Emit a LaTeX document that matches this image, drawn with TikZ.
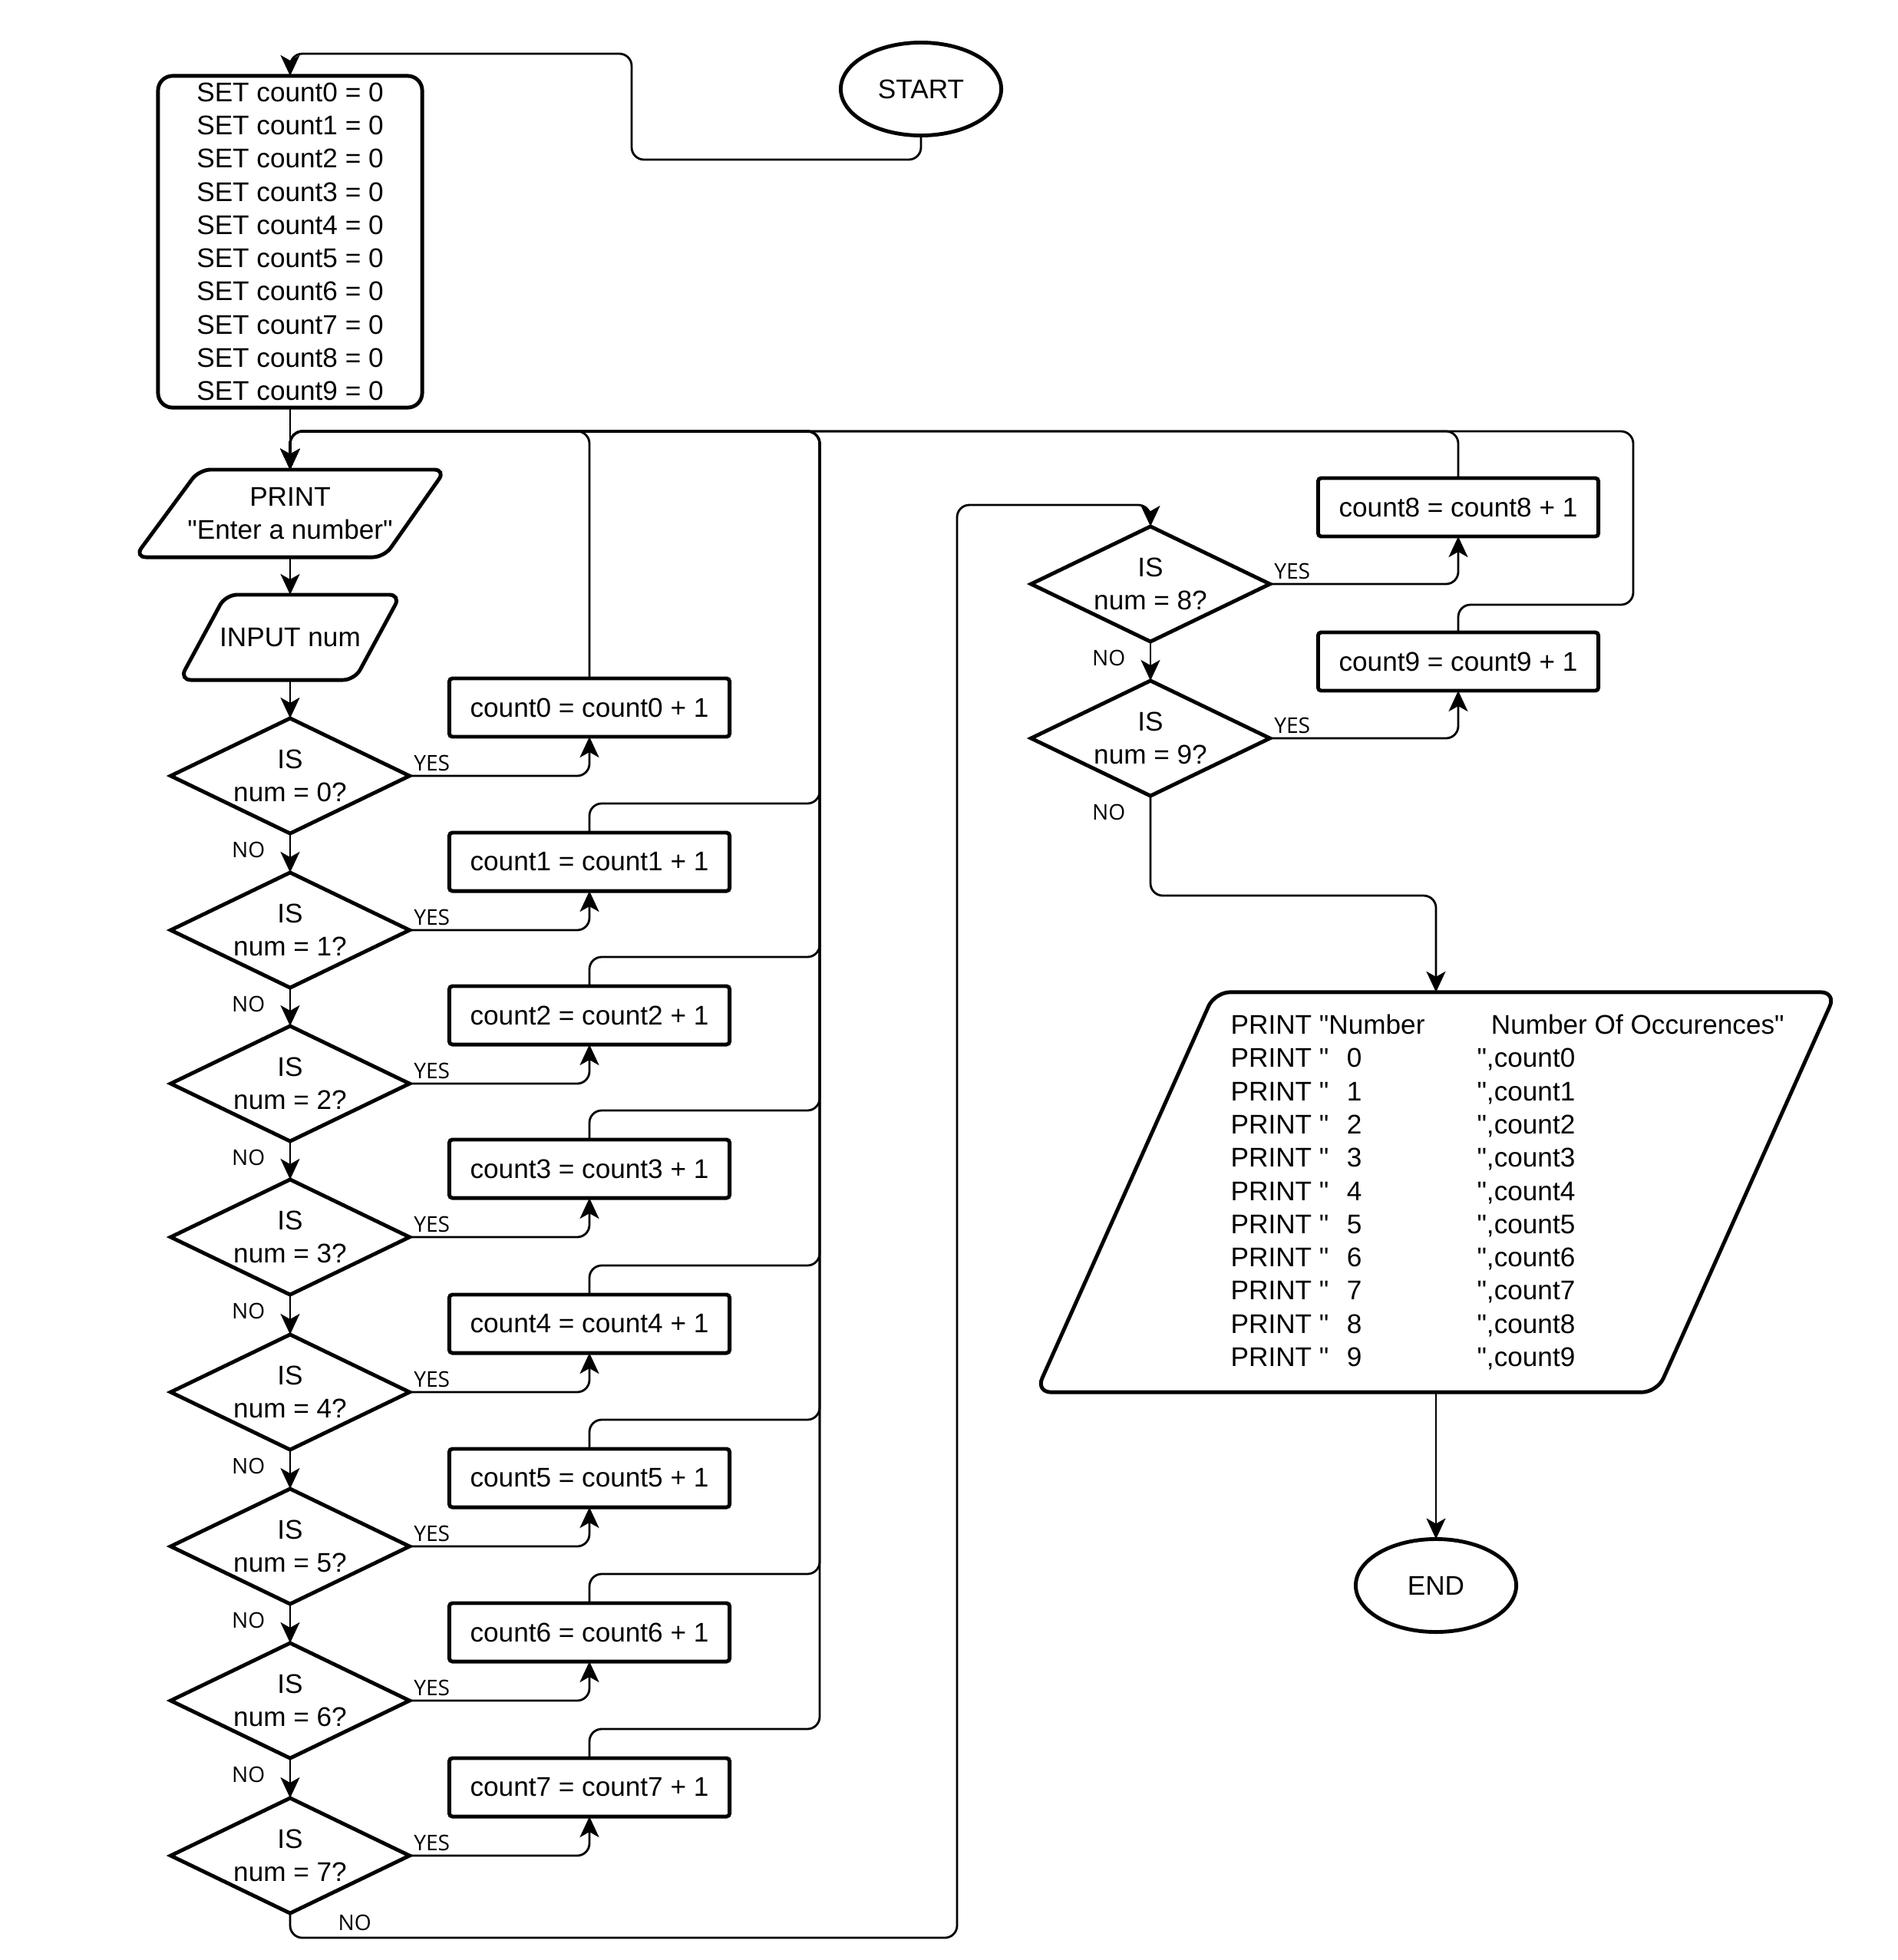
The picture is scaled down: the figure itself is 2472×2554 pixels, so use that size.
\documentclass[tikz,border=0pt]{standalone}
\usepackage{fontspec}
\setmainfont{Liberation Sans}[Ligatures=TeXOff]
\newfontfamily\lblfont{Open Sans}
\usetikzlibrary{shapes.geometric,arrows.meta}

\newcommand\mainsz{\fontsize{10pt}{12.3pt}\selectfont}
\newcommand\lblsz{\lblfont\fontsize{8pt}{9.6pt}\selectfont}
% one line of the final report: PRINT "  d      ",countd
\newcommand\outrow[1]{\makebox[1.51cm][l]{PRINT "}\makebox[1.696cm][l]{#1}",count#1}

\begin{document}
\begin{tikzpicture}[x=0.01cm,y=-0.01cm,
  font=\mainsz,
  shp/.style={draw, line width=1.4pt},
  terminal/.style={shp, ellipse, minimum width=2.09cm, minimum height=1.21cm, inner sep=0pt, outer sep=0pt},
  initbox/.style={shp, rectangle, rounded corners=0.19cm, minimum width=3.44cm, minimum height=4.32cm, inner sep=0pt, outer sep=0pt, align=center},
  iobox/.style={rectangle, inner sep=0pt, outer sep=0pt, align=center},
  iooutline/.style={shp, rounded corners=0.15cm},
  decision/.style={shp, diamond, minimum width=3.11cm, minimum height=1.50cm, inner sep=0pt, outer sep=0pt},
  dtext/.style={align=center, inner sep=0pt},
  incbox/.style={shp, rectangle, rounded corners=0.04cm, minimum width=3.65cm, minimum height=0.76cm, inner sep=0pt, outer sep=0pt},
  conn/.style={line width=0.8pt, rounded corners=0.16cm, -{Stealth[length=0.27cm, width=0.25cm, inset=0.07cm]}},
  lbl/.style={font=\lblsz, inner sep=0pt}
]
\useasboundingbox (0,0) rectangle (2472,2554);

% ---- terminals, initialisation, input/output ----
\node[terminal] (start) at (1200,116) {START};
\node[initbox] (init) at (378,315) {SET count0 = 0\\SET count1 = 0\\SET count2 = 0\\SET count3 = 0\\SET count4 = 0\\SET count5 = 0\\SET count6 = 0\\SET count7 = 0\\SET count8 = 0\\SET count9 = 0};

\node[iobox, minimum width=4.05cm, minimum height=1.14cm] (pr) at (378,669) {PRINT\\"Enter a number"};
\draw[iooutline] ([xshift=0.84cm]pr.north west) -- (pr.north east) -- ([xshift=-0.80cm]pr.south east) -- (pr.south west) -- cycle;

\node[iobox, minimum width=2.88cm, minimum height=1.11cm] (inp) at (378,830.5) {INPUT num};
\draw[iooutline] ([xshift=0.60cm]inp.north west) -- (inp.north east) -- ([xshift=-0.60cm]inp.south east) -- (inp.south west) -- cycle;

% ---- decisions and counters ----
\foreach \i/\y in {0/1011,1/1212,2/1412,3/1612,4/1814,5/2015,6/2216,7/2418} {
  \node[decision] (d\i) at (378,\y) {};
  \node[dtext] (q\i) at (d\i) {IS\\num = \i?};
  \node[incbox] (c\i) at (768,\y-89) {count\i{} = count\i{} + 1};
}
\foreach \i/\y in {8/761,9/962} {
  \node[decision] (d\i) at (1499,\y) {};
  \node[dtext] (q\i) at (d\i) {IS\\num = \i?};
  \node[incbox] (c\i) at (1900,\y-100) {count\i{} = count\i{} + 1};
}

% ---- report and end ----
\node[iobox, minimum width=10.42cm, minimum height=5.21cm] (out) at (1871,1553.5) {};
\draw[iooutline, rounded corners=0.2cm] ([xshift=2.33cm]out.north west) -- (out.north east) -- ([xshift=-2.33cm]out.south east) -- (out.south west) -- cycle;
\node[anchor=west, inner sep=0pt, align=left] (outtxt) at (1603,1553.5) {%
  \makebox[3.39cm][l]{PRINT "Number}Number Of Occurences"\\
  \outrow{0}\\\outrow{1}\\\outrow{2}\\\outrow{3}\\\outrow{4}\\
  \outrow{5}\\\outrow{6}\\\outrow{7}\\\outrow{8}\\\outrow{9}};

\node[terminal] (stop) at (1871,2066) {END};

% ---- routing points ----
\coordinate (s1) at (823,208);
\coordinate (s2) at (823,70);
\coordinate (bus) at (378,562);
\coordinate (railM) at (1068,562);
\coordinate (railR) at (2128,562);
\coordinate (n2) at (1247,658);

% ---- main flow ----
\draw[conn] (start.south) |- (s1) -- (s2) -- (init.north |- s2) [rounded corners=0.06cm] -- (init.north);
\draw[conn] (init.south) -- (pr.north);
\draw[conn] (pr.south) -- (inp.north);
\draw[conn] (inp.south) -- (d0.north);
\foreach \a/\b in {0/1,1/2,2/3,3/4,4/5,5/6,6/7,8/9}
  \draw[conn] (d\a.south) -- (d\b.north);

% YES branches
\foreach \i in {0,...,9}
  \draw[conn] (d\i.east) -| (c\i.south);

% counters back to the prompt
\draw[conn] (c0.north) |- (bus) -- (pr.north);
\foreach \i in {1,...,7}
  \draw[conn] (c\i.north) -- ++(0,-38) -| (railM) -- (bus) -- (pr.north);
\draw[conn] (c8.north) |- (bus) -- (pr.north);
\draw[conn] (c9.north) -- ++(0,-36) -| (railR) -- (bus) -- (pr.north);

% NO branches leaving the left column and the last test
\draw[conn] (d7.south) -- ++(0,32) -| (n2) -- (d8.north |- n2) [rounded corners=0.06cm] -- (d8.north);
\draw[conn] (d9.south) -- ++(0,130) -| (out.north);
\draw[conn] (out.south) -- (stop.north);

% ---- YES / NO labels ----
\foreach \i in {0,...,9}
  \node[lbl, anchor=base west] (yes\i) at ([shift={(5,-7)}]d\i.east) {YES};
\foreach \i in {0,...,6,8,9}
  \node[lbl, anchor=base east] (no\i) at ([shift={(-32,31)}]d\i.south) {NO};
\node[lbl, anchor=base west] (no7) at ([shift={(62,22)}]d7.south) {NO};
\end{tikzpicture}
\end{document}
